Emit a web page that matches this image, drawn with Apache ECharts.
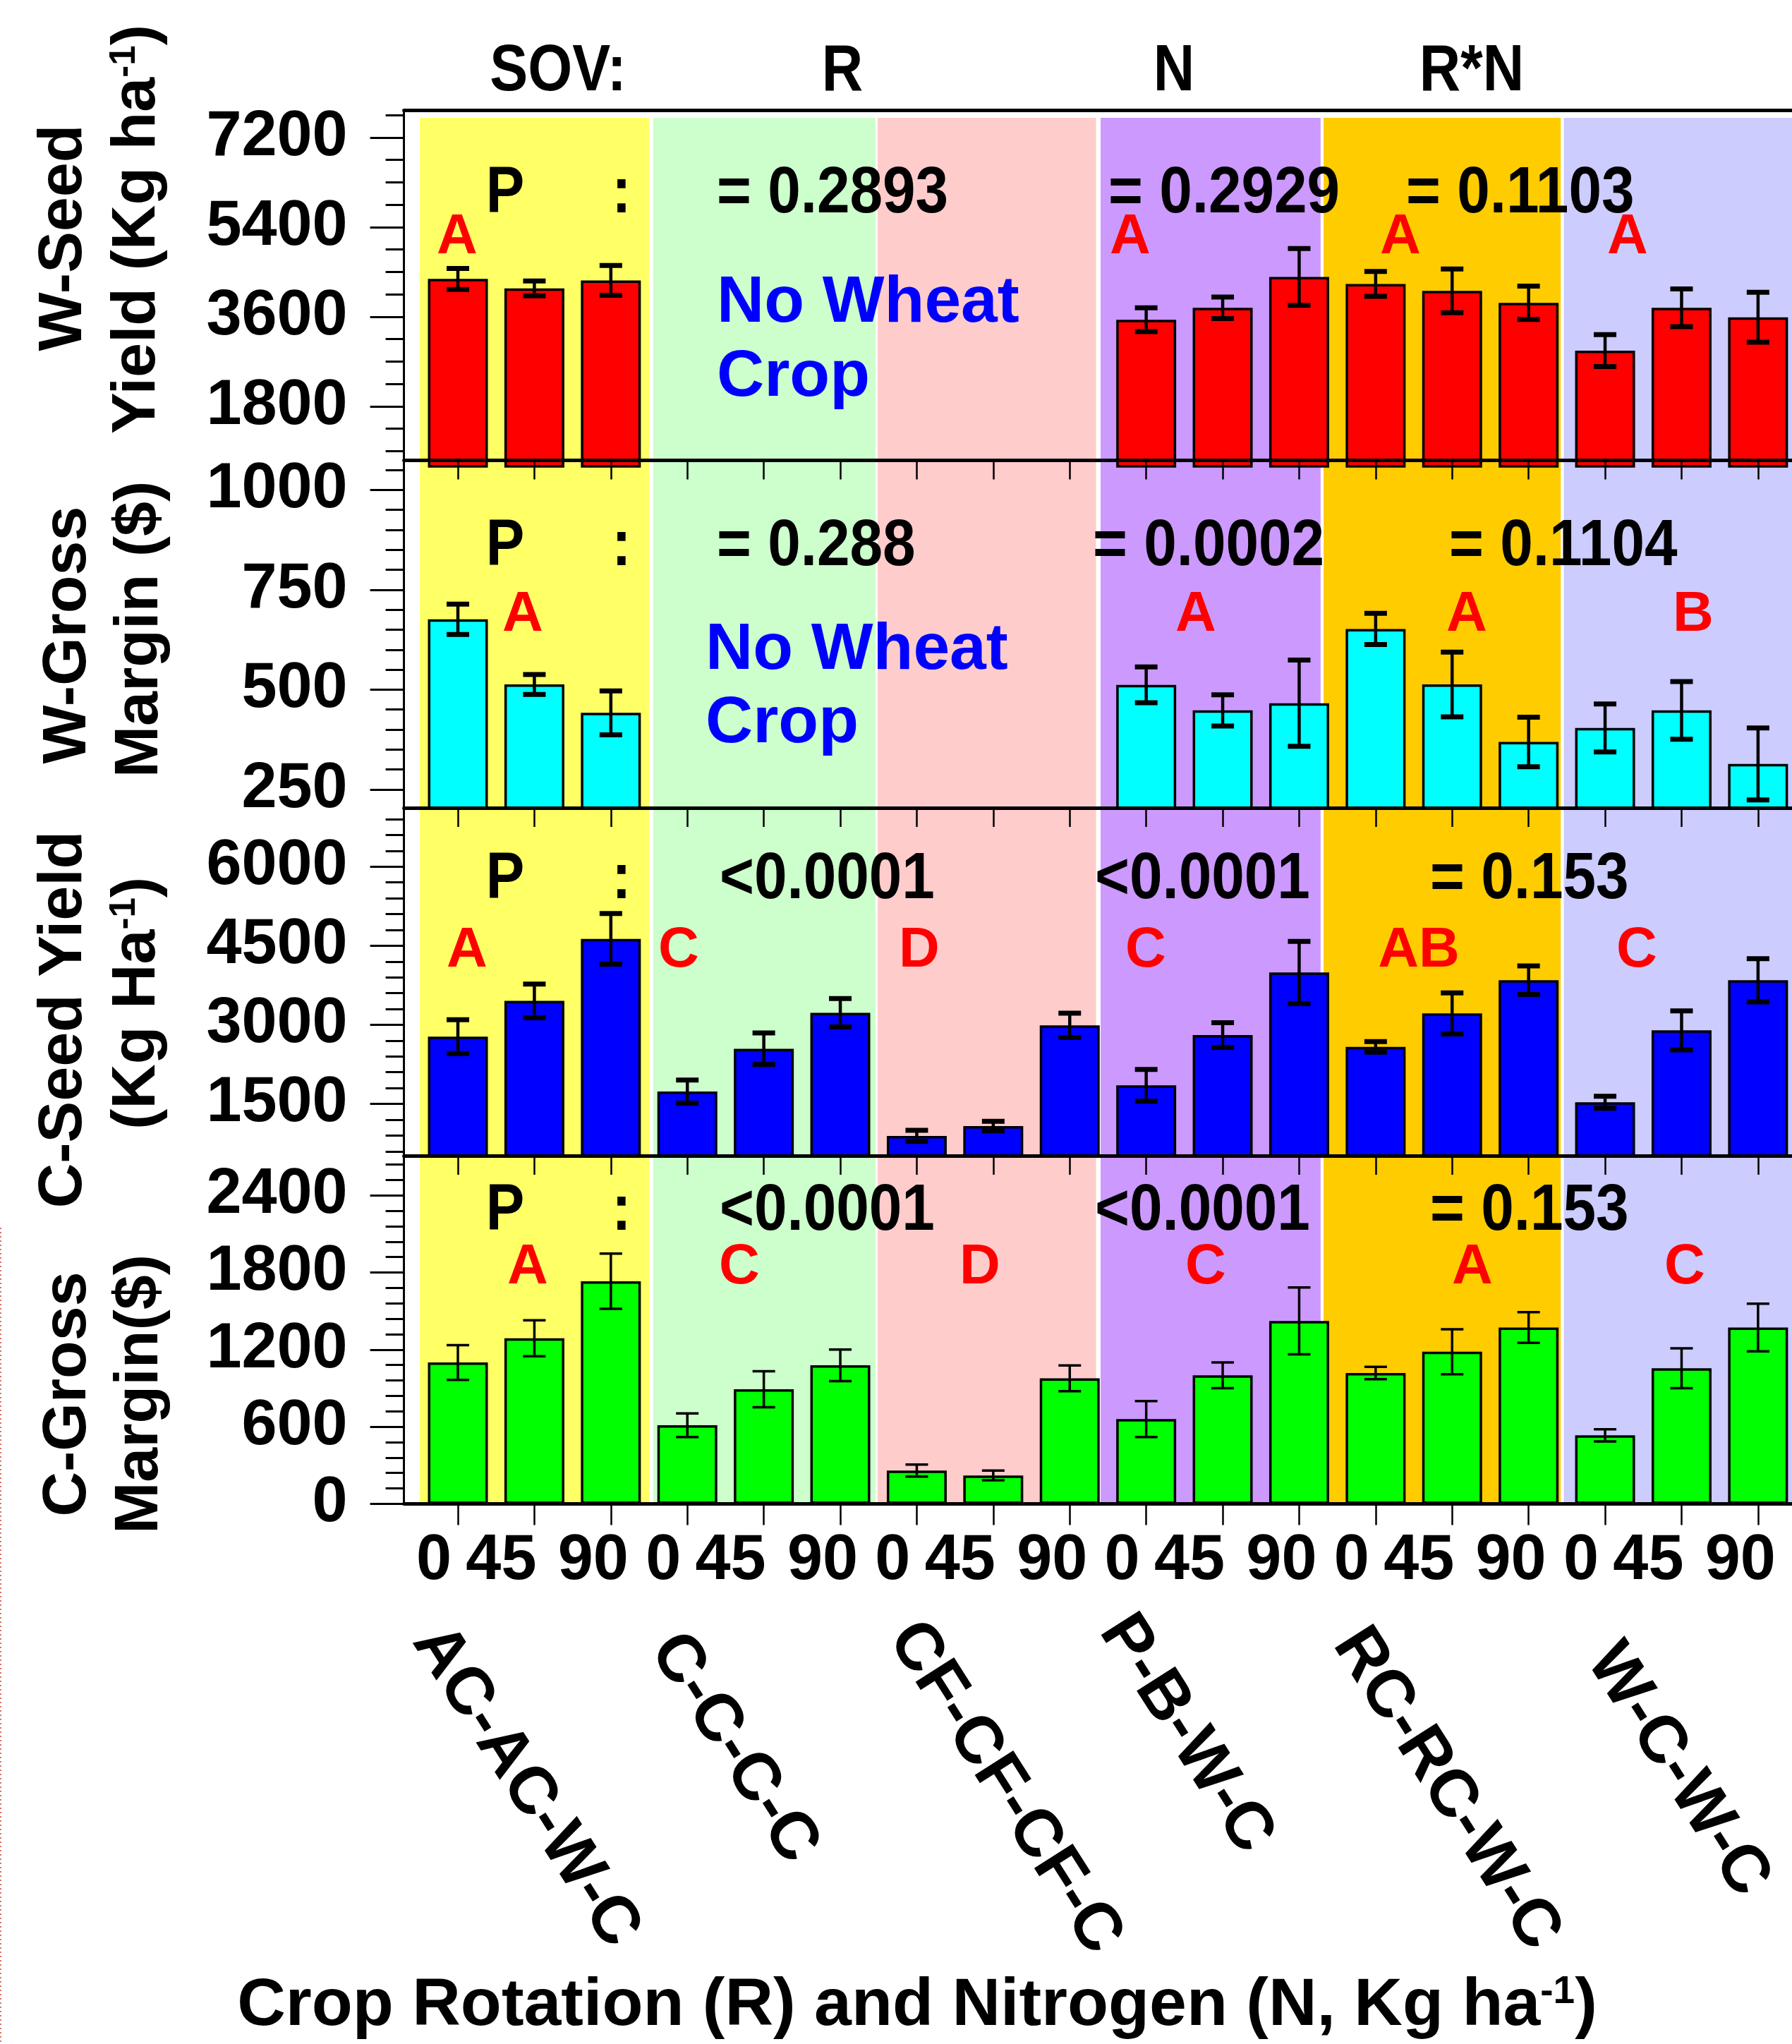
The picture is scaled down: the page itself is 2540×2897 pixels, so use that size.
<!DOCTYPE html>
<html>
<head>
<meta charset="utf-8">
<title>Crop rotation and nitrogen</title>
<script src="https://cdn.jsdelivr.net/npm/echarts@6.0.0/dist/echarts.min.js"></script>
<style>
  html, body { margin: 0; padding: 0; background: #fff; }
  #chart { width: 2540px; height: 2897px; }
</style>
</head>
<body>
<div id="chart"></div>
<script>
// crop rotations (R) and nitrogen rates (N, Kg ha-1)
const rotations = ['AC-AC-W-C', 'C-C-C-C', 'CF-CF-CF-C', 'P-B-W-C', 'RC-RC-W-C', 'W-C-W-C'];
const nitrogen = ['0', '45', '90'];

// wheat seed yield (Kg ha-1) -- no wheat in C-C-C-C and CF-CF-CF-C
const wSeed = [4360, 4170, 4330, null, null, null, null, null, null, 3540, 3780, 4400, 4260, 4120, 3880, 2920, 3780, 3590];
const wSeedErr = [210, 150, 300, null, null, null, null, null, null, 240, 215, 570, 250, 440, 335, 320, 380, 500];
// wheat gross margin ($)
const wMargin = [676, 513, 442, null, null, null, null, null, null, 512, 448, 466, 652, 513, 369, 404, 448, 314];
const wMarginErr = [38, 25, 55, null, null, null, null, null, null, 45, 39, 108, 39, 81, 62, 60, 72, 90];
// corn seed yield (Kg ha-1)
const cSeed = [2775, 3453, 4629, 1734, 2546, 3228, 893, 1080, 2989, 1852, 2806, 3992, 2582, 3216, 3845, 1531, 2895, 3845];
const cSeedErr = [320, 320, 480, 220, 300, 270, 105, 90, 230, 300, 235, 590, 100, 390, 270, 115, 370, 410];
// corn gross margin ($)
const cMargin = [1100, 1289, 1732, 612, 892, 1078, 259, 221, 977, 660, 1000, 1423, 1018, 1184, 1372, 533, 1055, 1372];
const cMarginErr = [135, 140, 215, 92, 140, 123, 47, 38, 100, 140, 100, 260, 48, 175, 120, 47, 155, 185];

// y tick labels
const yTicksWSeed = [1800, 3600, 5400, 7200];
const yTicksWMargin = [250, 500, 750, 1000];
const yTicksCSeed = [1500, 3000, 4500, 6000];
const yTicksCMargin = [0, 600, 1200, 1800, 2400];

// SOV header and P values (R, N, R*N)
const sovHeader = ['SOV:', 'R', 'N', 'R*N'];
const pValues1 = ['= 0.2893', '= 0.2929', '= 0.1103'];
const pValues2 = ['= 0.288', '= 0.0002', '= 0.1104'];
const pValues3 = ['<0.0001', '<0.0001', '= 0.153'];
const pValues4 = ['<0.0001', '<0.0001', '= 0.153'];

// mean separation letters
const letters1 = ['A', 'A', 'A', 'A'];
const letters2 = ['A', 'A', 'A', 'B'];
const letters3 = ['A', 'C', 'D', 'C', 'AB', 'C'];
const letters4 = ['A', 'C', 'D', 'C', 'A', 'C'];

// ---- layout ----
const FONT = '"Liberation Sans", Arial, sans-serif';
const PLOT_LEFT = 572.6;
const PLOT_WIDTH = 2540 - PLOT_LEFT;
const X_MIN = -0.705;
const X_MAX = 17.444;
const nCats = rotations.length * nitrogen.length;
const catPos = [];
for (let i = 0; i < nCats; i++) catPos.push(i);

const bandEdges = [[-0.498, 2.5], [2.555, 5.46], [5.489, 8.344], [8.404, 11.28], [11.32, 14.42], [14.46, X_MAX]];
const bandColors = ['#FFFF66', '#CCFFCC', '#FFCCCC', '#CC99FF', '#FFCC00', '#CCCCFF'];

// N labels sit a little left of their ticks (in category units)
const nLabelShift = [0.314, 0.434, 0.231];
const nLabelPos = catPos.map(i => i - nLabelShift[i % nitrogen.length]);

const panels = [
  { top: 156, height: 505, min: 593.5, max: 7753, ticks: yTicksWSeed, minorStep: 450, offset: -8.5,
    values: wSeed, errors: wSeedErr, color: '#FF0000', cap: 7, whisker: 4.5, tickLen: 27 },
  { top: 652.5, height: 492.5, min: 204, max: 1074, ticks: yTicksWMargin, minorStep: 50, offset: 0,
    values: wMargin, errors: wMarginErr, color: '#00FFFF', cap: 7, whisker: 4.5, tickLen: 27 },
  { top: 1145, height: 493, min: 518, max: 7113, ticks: yTicksCSeed, minorStep: 300, offset: 0,
    values: cSeed, errors: cSeedErr, color: '#0000FF', cap: 7, whisker: 4.5, tickLen: 27 },
  { top: 1638, height: 493.4, min: 0, max: 2709, ticks: yTicksCMargin, minorStep: 120, offset: 0,
    values: cMargin, errors: cMarginErr, color: '#00FF00', cap: 3.5, whisker: 3.5, tickLen: 30 }
];

function minorTicks(min, max, step, majors) {
  const out = [];
  for (let v = Math.ceil(min / step) * step; v <= max; v += step) {
    if (!majors.includes(v)) out.push(v);
  }
  return out;
}

function errorBar(capLine, whisker) {
  return function (params, api) {
    const x = api.value(0), v = api.value(1), e = api.value(2);
    const hi = api.coord([x, v + e]);
    const lo = api.coord([x, v - e]);
    const half = 16;
    return {
      type: 'group',
      children: [
        { type: 'line', shape: { x1: hi[0], y1: hi[1], x2: lo[0], y2: lo[1] }, style: { stroke: '#000', lineWidth: whisker } },
        { type: 'line', shape: { x1: hi[0] - half, y1: hi[1], x2: hi[0] + half, y2: hi[1] }, style: { stroke: '#000', lineWidth: capLine } },
        { type: 'line', shape: { x1: lo[0] - half, y1: lo[1], x2: lo[0] + half, y2: lo[1] }, style: { stroke: '#000', lineWidth: capLine } }
      ]
    };
  };
}

const grid = [], xAxis = [], yAxis = [], series = [];
const nP = panels.length;

panels.forEach((p, k) => {
  grid.push({ left: PLOT_LEFT, width: PLOT_WIDTH, top: p.top, height: p.height, containLabel: false, outerBoundsMode: 'none' });
  const last = k === nP - 1;
  xAxis.push({
    type: 'value', gridIndex: k, min: X_MIN, max: X_MAX, position: 'bottom', offset: p.offset, z: 6,
    axisLine: { show: true, onZero: false, lineStyle: { color: '#000', width: 5 } },
    axisTick: { show: true, length: p.tickLen, customValues: catPos, lineStyle: { color: '#000', width: 2.5 } },
    axisLabel: last ? {
      show: true, customValues: nLabelPos, margin: 37, lineHeight: 90, showMinLabel: true, showMaxLabel: true, hideOverlap: false,
      fontSize: 90, fontWeight: 'bold', fontFamily: FONT, color: '#000',
      formatter: v => nitrogen[Math.round(v) % nitrogen.length]
    } : { show: false },
    splitLine: { show: false }
  });
  yAxis.push({
    type: 'value', gridIndex: k, position: 'left', min: p.min, max: p.max, z: 6,
    axisLine: { show: true, onZero: false, lineStyle: { color: '#000', width: 3 } },
    axisTick: { show: true, length: 48, customValues: p.ticks, lineStyle: { color: '#000', width: 3 } },
    axisLabel: { show: true, customValues: p.ticks, margin: 80, fontSize: 90, fontWeight: 'bold', fontFamily: FONT, color: '#000',
      showMinLabel: true, showMaxLabel: true, formatter: v => String(v) },
    splitLine: { show: false }
  });
  const bars = [], errs = [];
  p.values.forEach((v, i) => {
    if (v == null) return;
    bars.push([i, v]);
    errs.push([i, v, p.errors[i]]);
  });
  series.push({
    type: 'bar', xAxisIndex: k, yAxisIndex: k, data: bars, barWidth: 85, clip: true, z: 3,
    itemStyle: { color: p.color, borderColor: '#000', borderWidth: 3.5 }
  });
  series.push({
    type: 'custom', xAxisIndex: k, yAxisIndex: k, data: errs, z: 4,
    encode: { x: 0, y: 1 }, renderItem: errorBar(p.cap, p.whisker)
  });
});

// minor y ticks (second y axis per panel, same scale)
panels.forEach((p, k) => {
  yAxis.push({
    type: 'value', gridIndex: k, position: 'left', min: p.min, max: p.max, z: 6,
    axisLine: { show: false, onZero: false },
    axisTick: { show: true, length: 26, customValues: minorTicks(p.min, p.max, p.minorStep, p.ticks), lineStyle: { color: '#000', width: 3 } },
    axisLabel: { show: false },
    splitLine: { show: false }
  });
});

// top frame line of first panel
xAxis.push({
  type: 'value', gridIndex: 0, min: X_MIN, max: X_MAX, position: 'top', z: 6,
  axisLine: { show: true, onZero: false, lineStyle: { color: '#000', width: 5 } },
  axisTick: { show: false }, axisLabel: { show: false }, splitLine: { show: false }
});

// background bands for the rotations
grid.push({ left: PLOT_LEFT, width: PLOT_WIDTH, top: 167, height: 2131.4 - 167, containLabel: false, outerBoundsMode: 'none' });
const bgIndex = grid.length - 1;
xAxis.push({ type: 'value', gridIndex: bgIndex, min: X_MIN, max: X_MAX, show: false });
yAxis.push({ type: 'value', gridIndex: bgIndex, min: 0, max: 1, show: false });
series.push({
  type: 'custom', xAxisIndex: xAxis.length - 1, yAxisIndex: yAxis.length - 1, z: 0, silent: true,
  data: bandEdges, encode: { x: [0, 1] },
  renderItem: (params, api) => {
    const a = api.coord([api.value(0), 1]);
    const b = api.coord([api.value(1), 0]);
    return { type: 'rect', shape: { x: a[0], y: a[1], width: b[0] - a[0], height: b[1] - a[1] }, style: { fill: bandColors[params.dataIndex] } };
  }
});

// ---- texts ----
function txt(text, x, y, o) {
  o = o || {};
  const size = o.size || 93;
  const el = {
    type: 'text', x: x, y: y, z: 20,
    rotation: o.rotation || 0, scaleX: o.scaleX || 1,
    style: {
      text: text, fill: o.color || '#000', fontSize: size, fontWeight: 'bold', fontFamily: FONT,
      align: o.align || 'center', verticalAlign: 'middle'
    }
  };
  if (o.sup) {
    el.style.rich = { sup: { fontSize: Math.round(size * 0.58), fontWeight: 'bold', fontFamily: FONT, fill: '#000', verticalAlign: 'top' } };
  }
  return el;
}

const graphic = [];
const sovX = [791, 1194, 1664, 2086];
sovHeader.forEach((t, i) => graphic.push(txt(t, sovX[i], 102, { scaleX: 0.87 })));

const pRows = [pValues1, pValues2, pValues3, pValues4];
const pRowY = [275, 775, 1247, 1717];
const pX = [[1016, 1571, 1993], [1016, 1549, 2054], [1020, 1552, 2027], [1020, 1552, 2027]];
pRows.forEach((row, k) => {
  graphic.push(txt('P', 716, pRowY[k], { scaleX: 0.88 }));
  graphic.push(txt(':', 881, pRowY[k], { scaleX: 0.88 }));
  row.forEach((t, i) => graphic.push(txt(t, pX[k][i], pRowY[k], { align: 'left', scaleX: 0.9 })));
});

const letterRows = [letters1, letters2, letters3, letters4];
const letterY = [337, 872, 1348, 1797];
const letterX = [
  [648, 1602, 1985, 2307],
  [741, 1695, 2079, 2400],
  [662, 962, 1303, 1624, 2011, 2320],
  [748, 1048, 1389, 1709, 2087, 2388]
];
letterRows.forEach((row, k) => {
  row.forEach((t, i) => graphic.push(txt(t, letterX[k][i], letterY[k], { size: 80, color: '#FF0000' })));
});

// no wheat in the continuous corn rotations
[[1016, 430, 535], [1000, 922, 1026]].forEach(([x, y1, y2]) => {
  graphic.push(txt('No Wheat', x, y1, { align: 'left', color: '#0000FF' }));
  graphic.push(txt('Crop', x, y2, { align: 'left', color: '#0000FF' }));
});

// y axis titles (two lines, rotated)
const yTitles = [
  ['W-Seed', 'Yield (Kg ha{sup|-1})', 337, 325, 91, 195],
  ['W-Gross', 'Margin ($)', 900, 892, 97, 199],
  ['C-Seed Yield', '(Kg Ha{sup|-1})', 1445, 1422, 91, 195],
  ['C-Gross', 'Margin($)', 1976, 1976, 97, 199]
];
yTitles.forEach(([l1, l2, y1, y2, x1, x2]) => {
  graphic.push(txt(l1, x1, y1, { size: 88, rotation: Math.PI / 2 }));
  graphic.push(txt(l2, x2, y2, { size: 88, rotation: Math.PI / 2, sup: true }));
});

// rotated rotation names under the N labels
const rotLabelPos = [[745, 2532], [1040, 2478], [1424, 2534], [1681, 2458], [2050, 2536], [2378, 2509]];
rotations.forEach((r, i) => {
  graphic.push(txt(r, rotLabelPos[i][0], rotLabelPos[i][1], { size: 94, rotation: -57.5 * Math.PI / 180 }));
});

graphic.push(txt('Crop Rotation (R) and Nitrogen (N, Kg ha{sup|-1})', 1300, 2844, { size: 95, sup: true }));

// faint dotted border on the far left
graphic.push({
  type: 'line', z: 20, shape: { x1: 1, y1: 1740, x2: 1, y2: 2897 },
  style: { stroke: '#c0392b', lineWidth: 2, lineDash: [2, 4], opacity: 0.7 }
});

const chart = echarts.init(document.getElementById('chart'), null, { renderer: 'canvas', devicePixelRatio: 1 });
chart.setOption({
  animation: false,
  backgroundColor: '#fff',
  grid: grid,
  xAxis: xAxis,
  yAxis: yAxis,
  series: series,
  graphic: graphic
});
</script>
</body>
</html>
